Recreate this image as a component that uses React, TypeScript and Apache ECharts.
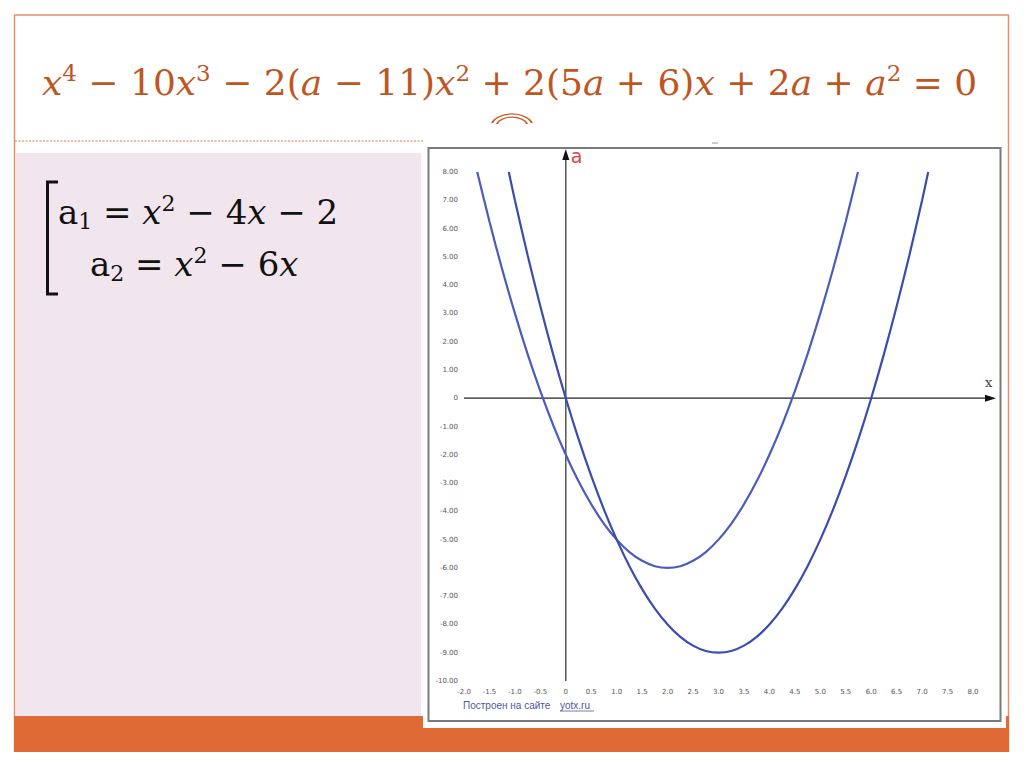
import React, { useEffect, useRef } from "react";
import * as echarts from "echarts";

// a1 = x^2 - 4x - 2
const a1X = [-1.74, -1.5, -1.25, -1, -0.75, -0.5, -0.25, 0, 0.25, 0.5, 0.75, 1, 1.25, 1.5, 1.75, 2, 2.25, 2.5, 2.75, 3, 3.25, 3.5, 3.75, 4, 4.25, 4.5, 4.75, 5, 5.25, 5.5, 5.74];
const a1Y = [8.0, 6.25, 4.56, 3.0, 1.56, 0.25, -0.94, -2.0, -2.94, -3.75, -4.44, -5.0, -5.44, -5.75, -5.94, -6.0, -5.94, -5.75, -5.44, -5.0, -4.44, -3.75, -2.94, -2.0, -0.94, 0.25, 1.56, 3.0, 4.56, 6.25, 8.0];
// a2 = x^2 - 6x
const a2X = [-1.12, -1, -0.75, -0.5, -0.25, 0, 0.25, 0.5, 0.75, 1, 1.25, 1.5, 1.75, 2, 2.25, 2.5, 2.75, 3, 3.25, 3.5, 3.75, 4, 4.25, 4.5, 4.75, 5, 5.25, 5.5, 5.75, 6, 6.25, 6.5, 6.75, 7, 7.12];
const a2Y = [8.0, 7.0, 5.06, 3.25, 1.56, 0.0, -1.44, -2.75, -3.94, -5.0, -5.94, -6.75, -7.44, -8.0, -8.44, -8.75, -8.94, -9.0, -8.94, -8.75, -8.44, -8.0, -7.44, -6.75, -5.94, -5.0, -3.94, -2.75, -1.44, 0.0, 1.56, 3.25, 5.06, 7.0, 8.0];

const xTickLabels = ["-2.0", "-1.5", "-1.0", "-0.5", "0", "0.5", "1.0", "1.5", "2.0", "2.5", "3.0", "3.5", "4.0", "4.5", "5.0", "5.5", "6.0", "6.5", "7.0", "7.5", "8.0"];
const yTickLabels = ["-10.00", "-9.00", "-8.00", "-7.00", "-6.00", "-5.00", "-4.00", "-3.00", "-2.00", "-1.00", "0", "1.00", "2.00", "3.00", "4.00", "5.00", "6.00", "7.00", "8.00"];

const X_MIN = -2, X_MAX = 8, X_STEP = 0.5;
const Y_MIN = -10, Y_MAX = 8, Y_STEP = 1;

const titleParts: [string, string][] = [
  ["i", "x"], ["s", "4"], ["n", " − 10"], ["i", "x"], ["s", "3"], ["n", " − 2("], ["i", "a"], ["n", " − 11)"],
  ["i", "x"], ["s", "2"], ["n", " + 2(5"], ["i", "a"], ["n", " + 6)"], ["i", "x"], ["n", " + 2"], ["i", "a"],
  ["n", " + "], ["i", "a"], ["s", "2"], ["n", " = 0"],
];
const eq1Parts: [string, string][] = [
  ["n", "a"], ["b", "1"], ["n", " = "], ["i", "x"], ["s", "2"], ["n", " − 4"], ["i", "x"], ["n", " − 2"],
];
const eq2Parts: [string, string][] = [
  ["n", "a"], ["b", "2"], ["n", " = "], ["i", "x"], ["s", "2"], ["n", " − 6"], ["i", "x"],
];

const toRich = (parts: [string, string][]) => parts.map(([k, t]) => `{${k}|${t}}`).join("");

const richStyles = (size: number, sub: number, fill: string) => ({
  n: { fontFamily: "DejaVu Serif", fontSize: size, fill, lineHeight: size + 6 },
  i: { fontFamily: "DejaVu Serif", fontSize: size, fill, fontStyle: "italic", lineHeight: size + 6 },
  s: { fontFamily: "DejaVu Serif", fontSize: sub, fill, verticalAlign: "top", lineHeight: size + 6 },
  b: { fontFamily: "DejaVu Serif", fontSize: sub, fill, verticalAlign: "bottom", lineHeight: size + 6 },
});

export default function App() {
  const ref = useRef<HTMLDivElement>(null);
  useEffect(() => {
    document.body.style.margin = "0";
    const chart = echarts.init(ref.current!, undefined, { renderer: "svg" });
    const zip = (xs: number[], ys: number[]) => xs.map((x, i) => [x, ys[i]]);
    const option: any = {
      animation: false,
      backgroundColor: "#ffffff",
      grid: { left: 464, top: 172, width: 509, height: 509, containLabel: false },
      xAxis: {
        type: "value", min: X_MIN, max: X_MAX, interval: X_STEP,
        axisLine: { show: false }, axisTick: { show: false },
        splitLine: { show: true, lineStyle: { color: "#d9d9d9", width: 1 } },
        axisLabel: {
          margin: 7, fontSize: 7, color: "#555", fontFamily: "DejaVu Sans",
          formatter: (v: number) => xTickLabels[Math.round((v - X_MIN) / X_STEP)] ?? "",
        },
      },
      yAxis: {
        type: "value", min: Y_MIN, max: Y_MAX, interval: Y_STEP,
        axisLine: { show: false }, axisTick: { show: false },
        splitLine: { show: true, lineStyle: { color: "#d9d9d9", width: 1 } },
        axisLabel: {
          margin: 6, fontSize: 7, color: "#555", fontFamily: "DejaVu Sans",
          formatter: (v: number) => yTickLabels[Math.round((v - Y_MIN) / Y_STEP)] ?? "",
        },
      },
      series: [
        { type: "line", data: zip(a1X, a1Y), smooth: 0.3, showSymbol: false, lineStyle: { color: "#4b5cba", width: 2.2 }, z: 5 },
        { type: "line", data: zip(a2X, a2Y), smooth: 0.3, showSymbol: false, lineStyle: { color: "#3a4cae", width: 2.2 }, z: 5 },
      ],
    };
    chart.setOption(option);

    const origin = chart.convertToPixel({ gridIndex: 0 }, [0, 0]) as number[];
    const leftPt = chart.convertToPixel({ gridIndex: 0 }, [X_MIN, 0]) as number[];
    const bottomPt = chart.convertToPixel({ gridIndex: 0 }, [0, Y_MIN]) as number[];
    const x0 = origin[0], y0 = origin[1];

    const orange = "#C0561F";
    const elements: any[] = [
      // slide frame
      { type: "line", shape: { x1: 14, y1: 15, x2: 1009, y2: 15 }, style: { stroke: "#E0906A", lineWidth: 1.5 }, z: 0 },
      { type: "line", shape: { x1: 14.5, y1: 15, x2: 14.5, y2: 752 }, style: { stroke: "#E0906A", lineWidth: 1.5 }, z: 0 },
      { type: "line", shape: { x1: 1008.5, y1: 15, x2: 1008.5, y2: 752 }, style: { stroke: "#E0906A", lineWidth: 1.5 }, z: 0 },
      { type: "line", shape: { x1: 15, y1: 141, x2: 423, y2: 141 }, style: { stroke: "#D8784A", lineWidth: 1, lineDash: [2, 1.5] }, z: 0 },
      // pink panel
      { type: "rect", shape: { x: 16, y: 153, width: 405, height: 563 }, style: { fill: "#F2E6EE" }, z: 0 },
      // orange bar
      { type: "rect", shape: { x: 14, y: 716, width: 995, height: 36 }, style: { fill: "#E06A36" }, z: 0 },
      // graph picture
      { type: "rect", shape: { x: 423, y: 140, width: 583, height: 588 }, style: { fill: "#ffffff" }, z: 0 },
      { type: "rect", shape: { x: 428.5, y: 148, width: 572, height: 573 }, style: { fill: "none", stroke: "#7a7a7a", lineWidth: 2 }, z: 1 },
      { type: "line", shape: { x1: 712, y1: 143, x2: 718, y2: 143 }, style: { stroke: "#999", lineWidth: 1 }, z: 1 },
      // decoration arcs
      {
        type: "group", x: 512, y: 127, scaleY: 0.62, children: [
          { type: "arc", shape: { cx: 0, cy: 0, r: 21, startAngle: Math.PI * 1.1, endAngle: Math.PI * 1.9 }, style: { stroke: "#C8602A", lineWidth: 2, fill: "none" } },
          { type: "arc", shape: { cx: 0, cy: 0, r: 16, startAngle: Math.PI * 1.1, endAngle: Math.PI * 1.9 }, style: { stroke: "#C8602A", lineWidth: 2, fill: "none" } },
        ],
      },
      // title
      {
        type: "text", x: 42, y: 82, z: 3,
        style: { text: toRich(titleParts), verticalAlign: "middle", align: "left", rich: richStyles(36, 23, orange) },
      },
      // equations
      {
        type: "polyline", z: 3,
        shape: { points: [[58, 182], [47.5, 182], [47.5, 294], [58, 294]] },
        style: { stroke: "#111", lineWidth: 3, fill: "none" },
      },
      {
        type: "text", x: 58, y: 212, z: 3,
        style: { text: toRich(eq1Parts), verticalAlign: "middle", align: "left", rich: richStyles(34, 22, "#111") },
      },
      {
        type: "text", x: 90, y: 264, z: 3,
        style: { text: toRich(eq2Parts), verticalAlign: "middle", align: "left", rich: richStyles(34, 22, "#111") },
      },
      // axes through origin
      { type: "line", shape: { x1: x0, y1: bottomPt[1], x2: x0, y2: 158 }, style: { stroke: "#555", lineWidth: 1.5 }, z: 4 },
      { type: "polygon", shape: { points: [[x0, 149], [x0 - 3.5, 160], [x0 + 3.5, 160]] }, style: { fill: "#111" }, z: 4 },
      { type: "line", shape: { x1: leftPt[0], y1: y0, x2: 987, y2: y0 }, style: { stroke: "#222", lineWidth: 1.2 }, z: 4 },
      { type: "polygon", shape: { points: [[996, y0], [985, y0 - 3.5], [985, y0 + 3.5]] }, style: { fill: "#111" }, z: 4 },
      { type: "text", x: x0 + 5, y: 146, z: 4, style: { text: "a", fontFamily: "DejaVu Sans", fontSize: 19, fill: "#DD4444" } },
      { type: "text", x: 985, y: 376, z: 4, style: { text: "x", fontFamily: "DejaVu Serif", fontSize: 13, fill: "#444" } },
      // credit
      { type: "text", x: 463, y: 700, z: 4, style: { text: "Построен на сайте", fontFamily: "Liberation Sans", fontSize: 10, fill: "#4a5a9e" } },
      { type: "text", x: 560, y: 700, z: 4, style: { text: "yotx.ru", fontFamily: "Liberation Sans", fontSize: 10, fill: "#4a5a9e" } },
      { type: "line", shape: { x1: 560, y1: 711, x2: 594, y2: 711 }, style: { stroke: "#4a5a9e", lineWidth: 0.8 }, z: 4 },
    ];
    chart.setOption({ graphic: { elements } });
    return () => chart.dispose();
  }, []);
  return <div ref={ref} style={{ position: "fixed", left: 0, top: 0, width: 1024, height: 767 }} />;
}
